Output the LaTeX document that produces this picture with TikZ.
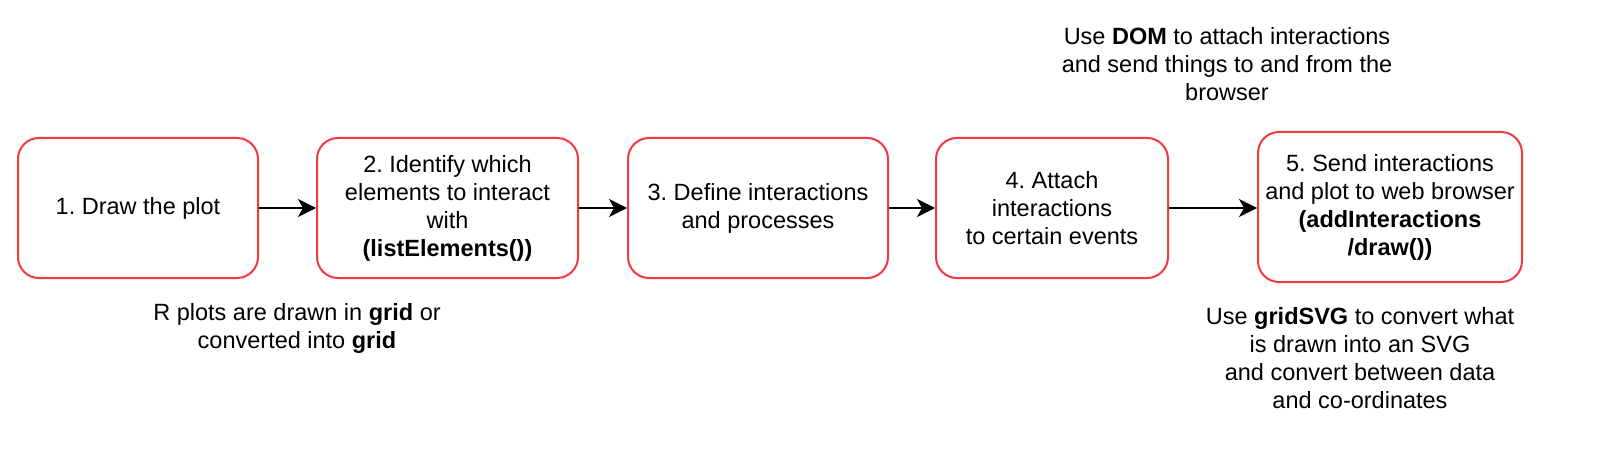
\documentclass[tikz,border=0pt]{standalone}
\usepackage{fontspec}
\setmainfont{Liberation Sans}
\usetikzlibrary{arrows.meta}
\definecolor{boxred}{RGB}{242,56,64}
\frenchspacing
\begin{document}
\begin{tikzpicture}[x=1pt,y=-1pt,
  stepbox/.style={draw=boxred,line width=2pt,rounded corners=21pt,fill=white,
    align=center,inner sep=0pt,font=\fontsize{23.5}{28}\selectfont},
  note/.style={align=center,inner sep=0pt,font=\fontsize{23.5}{28}\selectfont},
  flow/.style={line width=2pt,-{Stealth[length=18pt,width=18pt,inset=5pt]}}]
\useasboundingbox (0,0) rectangle (1605,462);
\node[stepbox,minimum width=240pt,minimum height=140pt] (b1) at (138,208) {1. Draw the plot};
\node[stepbox,minimum width=261pt,minimum height=140pt] (b2) at (447.5,208) {2. Identify which\\elements to interact\\with\\\textbf{(listElements())}};
\node[stepbox,minimum width=260pt,minimum height=140pt] (b3) at (758,208) {3. Define interactions\\and processes};
\node[stepbox,minimum width=232pt,minimum height=140pt] (b4) at (1052,208) {4. Attach\\interactions\\to certain events};
\node[stepbox,minimum width=264pt,minimum height=150pt] (b5) at (1390,207) {5. Send interactions\\and plot to web browser\\\textbf{(addInteractions}\\\textbf{/draw())}};
\draw[flow] (b1.east) -- (b2.west);
\draw[flow] (b2.east) -- (b3.west);
\draw[flow] (b3.east) -- (b4.west);
\draw[flow] (b4.east) -- (b5.west |- b4.east);
\node[note,anchor=north] (t1) at (1227,27) {Use \textbf{DOM} to attach interactions\\and send things to and from the\\browser};
\node[note,anchor=north] (t2) at (297,303) {R plots are drawn in \textbf{grid} or\\converted into \textbf{grid}};
\node[note,anchor=north] (t3) at (1360,307) {Use \textbf{gridSVG} to convert what\\is drawn into an SVG\\and convert between data\\and co-ordinates};
\end{tikzpicture}
\end{document}
